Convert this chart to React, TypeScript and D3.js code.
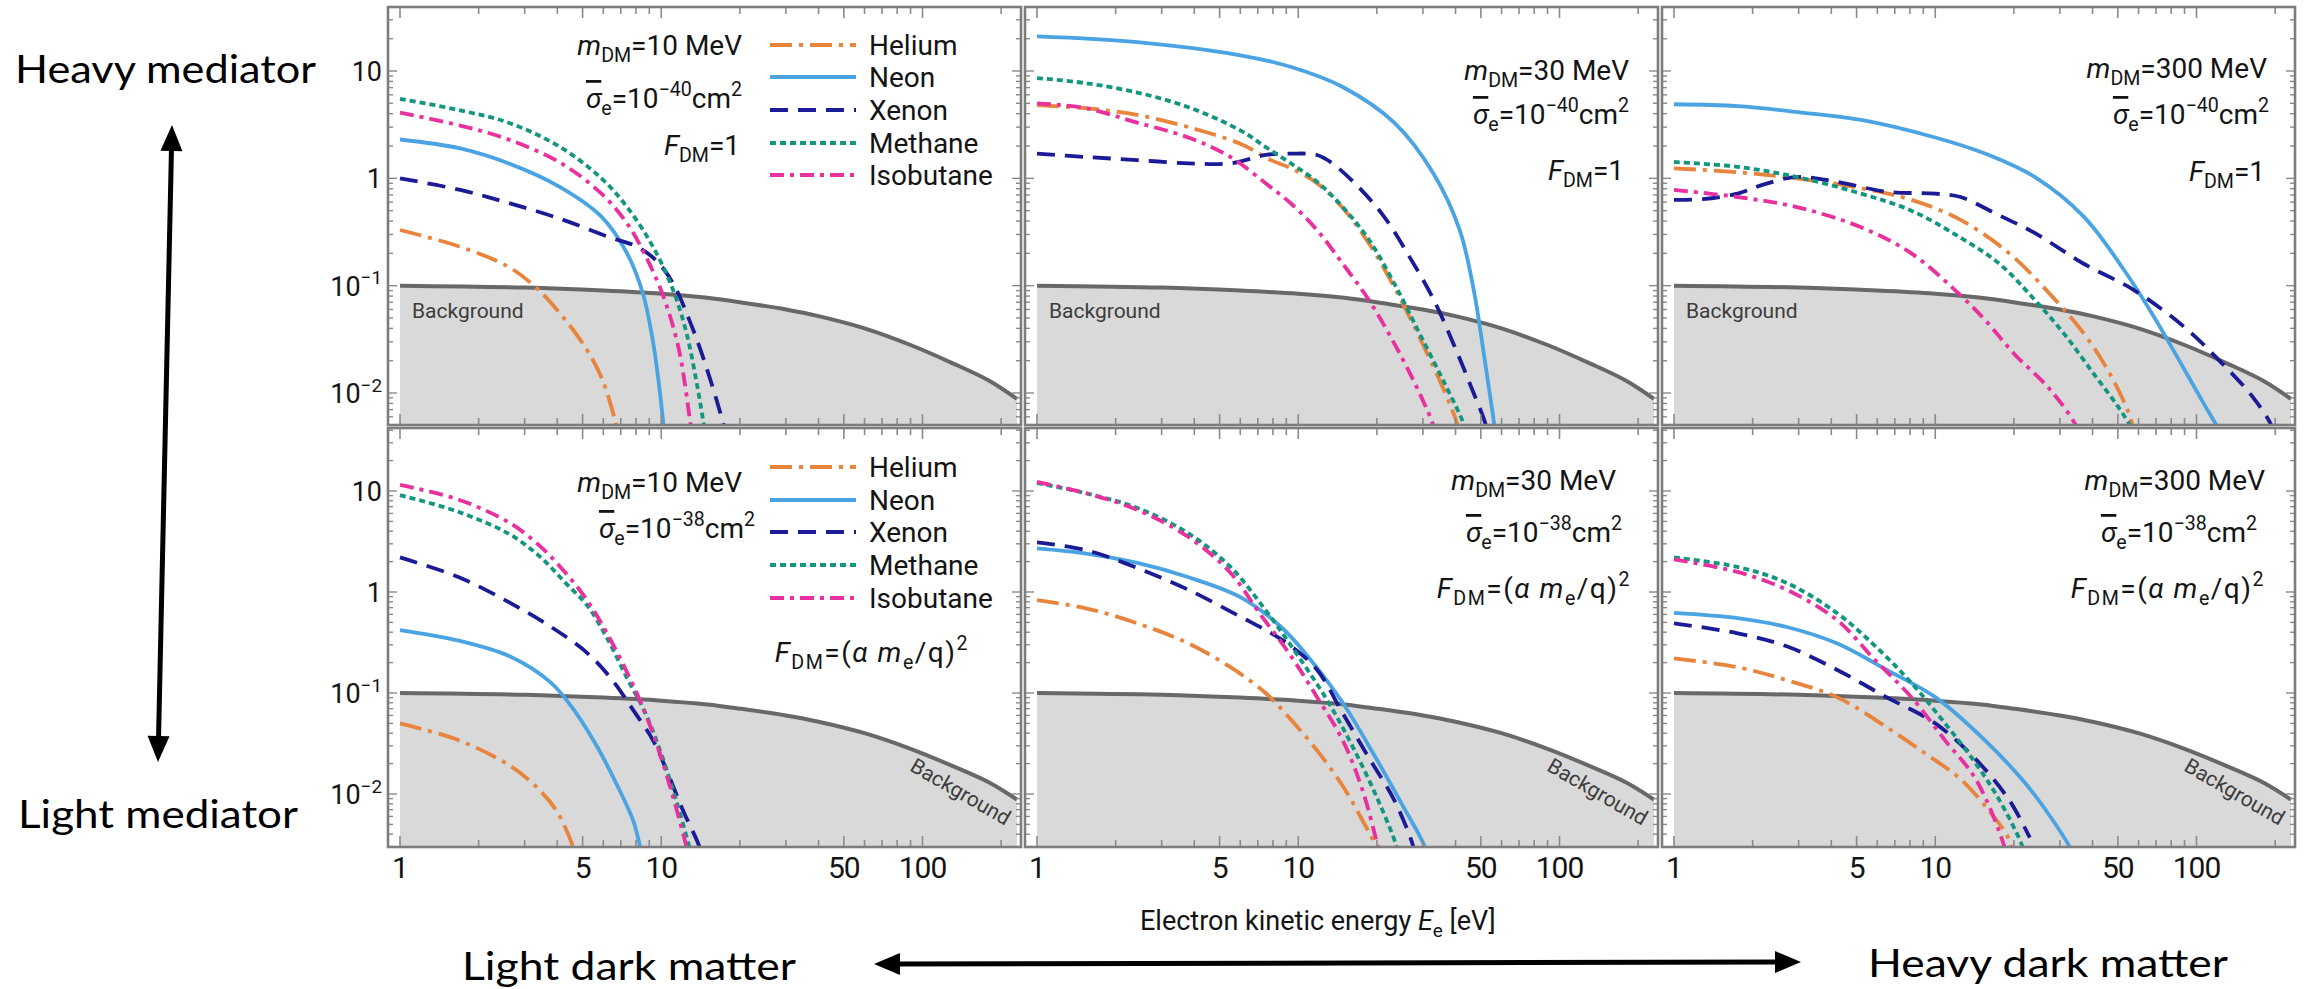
import React from 'react';
import * as d3 from 'd3';

type Pt = [number, number];

// ---------- DATA (energy in eV, rate) ----------
const background: Pt[] = [[1,0.1],[3,0.096],[6,0.09],[10,0.084],[15,0.077],[20,0.07],[30,0.06],[40,0.052],[60,0.04],[90,0.028],[130,0.019],[180,0.013],[230,0.0088]];

// Top-left: m=10 MeV, F=1
const heliumTL: Pt[] = [[1,0.33],[1.7,0.23],[2.6,0.15],[3.3,0.097],[4.1,0.055],[5.1,0.027],[5.9,0.014],[6.6,0.006],[7.0,0.003]];
const neonTL: Pt[] = [[1,2.3],[1.7,1.9],[2.6,1.38],[4.1,0.83],[5.9,0.44],[7.4,0.2],[8.5,0.085],[9.3,0.03],[9.8,0.012],[10.2,0.005],[10.4,0.003]];
const xenonTL: Pt[] = [[1,1.0],[1.7,0.78],[2.6,0.59],[4.1,0.42],[6.4,0.28],[8.1,0.23],[9.6,0.17],[11.1,0.105],[12.8,0.048],[14.6,0.02],[17.4,0.0048],[18,0.003]];
const methaneTL: Pt[] = [[1,5.5],[1.7,4.3],[2.6,3.3],[4.1,1.96],[5.9,1.0],[7.4,0.54],[9.3,0.23],[11.1,0.091],[12.5,0.036],[13.7,0.012],[14.6,0.0048],[15,0.003]];
const isobutaneTL: Pt[] = [[1,4.1],[1.7,3.1],[2.6,2.3],[4.1,1.4],[5.9,0.72],[7.4,0.38],[8.9,0.17],[10.3,0.074],[11.7,0.025],[13,0.0048],[13.4,0.003]];

// Top-middle: m=30 MeV, F=1
const heliumTM: Pt[] = [[1,4.8],[1.54,4.5],[2.42,3.9],[3.8,3.0],[6.0,2.1],[7.9,1.47],[9.4,1.24],[11.8,0.9],[14.8,0.53],[18.6,0.25],[23.3,0.097],[29.1,0.033],[36.5,0.01],[41,0.0048],[42.5,0.003]];
const neonTM: Pt[] = [[1,21],[2.42,18.6],[6.0,14],[9.4,10.9],[14.8,7.1],[23.3,3.3],[33,1.1],[41.5,0.33],[47,0.09],[51.5,0.022],[55,0.0075],[57.5,0.0035],[58.5,0.0025]];
const xenonTM: Pt[] = [[1,1.7],[1.54,1.58],[2.42,1.48],[3.8,1.38],[5.5,1.38],[7.5,1.65],[9.4,1.7],[11.8,1.65],[13.5,1.38],[17,0.83],[21.3,0.44],[26.5,0.19],[33,0.074],[39.7,0.027],[45.5,0.012],[52.5,0.0048],[54,0.003]];
const methaneTM: Pt[] = [[1,8.6],[1.54,7.7],[2.42,6.3],[3.8,4.6],[6.0,2.8],[7.5,1.96],[9.4,1.37],[11.8,0.93],[14.8,0.54],[18.6,0.27],[23.3,0.105],[29.1,0.036],[36.5,0.012],[43.4,0.0048],[45,0.003]];
const isobutaneTM: Pt[] = [[1,5.0],[1.54,4.5],[2.42,3.3],[3.8,2.4],[5.5,1.58],[7.5,0.9],[9.4,0.58],[11.8,0.33],[14.8,0.16],[18.6,0.074],[23.3,0.029],[29.1,0.01],[33,0.0048],[34,0.003]];

// Top-right: m=300 MeV, F=1
const heliumTR: Pt[] = [[1,1.24],[1.75,1.14],[2.95,1.0],[5.2,0.81],[8.1,0.63],[12.5,0.41],[19.2,0.2],[27.3,0.085],[37,0.036],[46,0.016],[55,0.0065],[59,0.0035]];
const neonTR: Pt[] = [[1,4.9],[1.75,4.7],[3.08,4.1],[5.2,3.5],[10,2.4],[15.5,1.7],[24,1.03],[37,0.44],[52.8,0.14],[68.5,0.052],[85,0.021],[105,0.0085],[122,0.0045],[132,0.003]];
const xenonTR: Pt[] = [[1,0.63],[1.29,0.64],[1.75,0.72],[2.18,0.87],[2.95,1.03],[4.2,0.93],[6.5,0.75],[10,0.72],[12.5,0.67],[17,0.47],[24,0.31],[37,0.16],[57.6,0.091],[89,0.042],[125,0.019],[164,0.0092],[195,0.0048],[205,0.003]];
const methaneTR: Pt[] = [[1,1.42],[1.75,1.28],[2.95,1.03],[5.2,0.72],[8.1,0.5],[12.5,0.28],[17.6,0.16],[24,0.074],[31.3,0.035],[40.5,0.015],[50,0.0075],[57,0.0045],[61,0.003]];
const isobutaneTR: Pt[] = [[1,0.78],[1.75,0.67],[2.95,0.54],[5.2,0.35],[8.1,0.2],[11.9,0.091],[15.5,0.048],[20.1,0.023],[27.3,0.011],[34.8,0.0048],[36.5,0.003]];

// Bottom-left: m=10 MeV, F=(a me/q)^2
const heliumBL: Pt[] = [[1,0.05],[1.68,0.034],[2.64,0.019],[3.3,0.012],[3.96,0.0069],[4.6,0.003],[4.8,0.002]];
const neonBL: Pt[] = [[1,0.42],[1.68,0.33],[2.64,0.23],[3.79,0.126],[4.73,0.063],[5.7,0.029],[6.8,0.012],[7.8,0.0055],[8.3,0.003],[8.6,0.002]];
const xenonBL: Pt[] = [[1,2.2],[1.68,1.4],[2.64,0.78],[3.79,0.45],[5.2,0.25],[6.5,0.134],[7.8,0.068],[9.3,0.034],[10.6,0.016],[12.1,0.0069],[14.0,0.003],[14.5,0.002]];
const methaneBL: Pt[] = [[1,9.1],[1.68,6.2],[2.64,3.7],[3.46,2.2],[4.3,1.23],[5.2,0.74],[6.2,0.35],[7.4,0.14],[8.7,0.063],[10,0.025],[11.4,0.0087],[12.8,0.003],[13.3,0.002]];
const isobutaneBL: Pt[] = [[1,11.5],[1.68,8.2],[2.64,4.8],[3.46,2.8],[4.3,1.55],[5.2,0.83],[6.2,0.39],[7.4,0.16],[8.5,0.072],[9.7,0.029],[11.1,0.0093],[12.5,0.003],[13,0.002]];

// Bottom-middle: m=30 MeV
const heliumBM: Pt[] = [[1,0.83],[1.54,0.69],[2.42,0.49],[3.8,0.31],[5.5,0.18],[7.5,0.1],[9.4,0.054],[11.8,0.027],[14.8,0.012],[17.6,0.0055],[19.8,0.003],[20.5,0.002]];
const neonBM: Pt[] = [[1,2.7],[1.54,2.4],[2.42,1.94],[3.8,1.4],[6.0,0.89],[8.6,0.45],[11.2,0.21],[14.8,0.08],[19.4,0.025],[25.3,0.0074],[30.5,0.003],[31.5,0.002]];
const xenonBM: Pt[] = [[1,3.1],[1.54,2.6],[2.42,1.73],[3.8,1.05],[6.0,0.57],[7.9,0.39],[9.4,0.29],[11.8,0.17],[14.8,0.063],[18.6,0.023],[23.3,0.0087],[27.6,0.003],[28.5,0.002]];
const methaneBM: Pt[] = [[1,12],[1.54,9.5],[2.42,6.8],[3.8,3.8],[5.5,1.77],[7.5,0.66],[9.8,0.25],[12.9,0.085],[16.2,0.029],[20.2,0.0087],[23.8,0.003],[24.5,0.002]];
const isobutaneBM: Pt[] = [[1,12.3],[1.54,9.5],[2.42,6.5],[3.8,3.5],[5.5,1.55],[7.1,0.62],[9.4,0.23],[11.8,0.091],[14.8,0.034],[17.6,0.011],[20.2,0.003],[21,0.002]];

// Bottom-right: m=300 MeV
const heliumBR: Pt[] = [[1,0.22],[1.75,0.18],[2.7,0.134],[4.2,0.091],[6.5,0.046],[9.2,0.025],[12.5,0.014],[16.3,0.0065],[19.2,0.0035],[19.8,0.002]];
const neonBR: Pt[] = [[1,0.62],[1.75,0.55],[2.7,0.45],[4.2,0.31],[6.5,0.17],[10,0.091],[15.5,0.034],[22,0.013],[27.3,0.0062],[32.7,0.003],[34,0.0024]];
const xenonBR: Pt[] = [[1,0.49],[1.75,0.39],[2.7,0.29],[4.2,0.17],[6.5,0.091],[10,0.05],[14.3,0.022],[19.2,0.0087],[23,0.0037]];
const methaneBR: Pt[] = [[1,2.2],[1.75,1.77],[2.7,1.23],[4.2,0.62],[5.9,0.29],[8.1,0.126],[10.9,0.05],[14.3,0.02],[17.6,0.0087],[21.6,0.003],[22.5,0.002]];
const isobutaneBR: Pt[] = [[1,2.1],[1.75,1.58],[2.7,1.05],[4.2,0.53],[5.9,0.21],[8.1,0.091],[10.9,0.034],[14.3,0.014],[18.4,0.003],[19,0.002]];

const seriesNames = ['Helium', 'Neon', 'Xenon', 'Methane', 'Isobutane'];
const xTickVals = [1,2,3,4,5,6,7,8,9,10,20,30,40,50,60,70,80,90,100,200];
const xLabelVals = [1,5,10,50,100];
const yLabelVals = [10,1,0.1,0.01];

// ---------- STYLE ----------
const STYLES: Record<string, {color: string; dash?: string}> = {
  Helium: {color: '#E8843C', dash: '22,7,4,7'},
  Neon: {color: '#4AA3E2'},
  Xenon: {color: '#1B1B98', dash: '18,10'},
  Methane: {color: '#13967F', dash: '6,4'},
  Isobutane: {color: '#E8309F', dash: '14,6,4,6'},
};

const colLeft = [388, 1025, 1662];
const FRAME_W = 633;
const PAD = 12;
const E_MAX = 230;
const ROWS = [
  {top: 7, bottom: 425, y10: 71, y001: 393},
  {top: 428, bottom: 847, y10: 491, y001: 794},
];
const SANS = 'Roboto, "Noto Sans", sans-serif';
const HUMAN = 'Lato, "Open Sans", sans-serif';

type Part = {t: string; sub?: boolean; sup?: boolean; it?: boolean; over?: boolean};

function Rich({x, y, parts, fs, anchor = 'end', fill = '#141414', family = SANS, ls = 0}: {x: number; y: number; parts: Part[]; fs: number; anchor?: string; fill?: string; family?: string; ls?: number}) {
  let cur = 0;
  return (
    <text x={x} y={y} fontSize={fs} textAnchor={anchor as any} fill={fill} fontFamily={family} letterSpacing={ls}>
      {parts.map((p, i) => {
        const target = p.sub ? fs * 0.26 : p.sup ? -fs * 0.42 : 0;
        const dy = target - cur;
        cur = target;
        return (
          <tspan key={i} dy={dy} fontSize={p.sub || p.sup ? fs * 0.7 : fs} fontStyle={p.it ? 'italic' : 'normal'}
            style={p.over ? {textDecoration: 'overline'} : undefined}>{p.t}</tspan>
        );
      })}
    </text>
  );
}

const mText = (v: string): Part[] => [{t: 'm', it: true}, {t: 'DM', sub: true}, {t: `=${v} MeV`}];
const sText = (p: string): Part[] => [{t: 'σ', it: true, over: true}, {t: 'e', sub: true}, {t: '=10'}, {t: `−${p}`, sup: true}, {t: 'cm'}, {t: '2', sup: true}];
const fOne: Part[] = [{t: 'F', it: true}, {t: 'DM', sub: true}, {t: '=1'}];
const fAlpha: Part[] = [{t: 'F', it: true}, {t: 'DM', sub: true}, {t: '=('}, {t: 'α', it: true}, {t: ' '}, {t: 'm', it: true}, {t: 'e', sub: true}, {t: '/q)'}, {t: '2', sup: true}];

type Anno = {parts: Part[]; x: number; y: number; ls?: number};
type PanelDef = {col: number; row: number; data: Pt[][]; annos: Anno[]; legend?: {x0: number; x1: number; tx: number; ys: number[]}};

const PANELS: PanelDef[] = [
  {col: 0, row: 0, data: [heliumTL, neonTL, xenonTL, methaneTL, isobutaneTL],
    annos: [{parts: mText('10'), x: 742, y: 55}, {parts: sText('40'), x: 742, y: 108}, {parts: fOne, x: 740, y: 155}],
    legend: {x0: 770, x1: 856, tx: 869, ys: [45, 77, 110, 143, 175]}},
  {col: 1, row: 0, data: [heliumTM, neonTM, xenonTM, methaneTM, isobutaneTM],
    annos: [{parts: mText('30'), x: 1629, y: 80}, {parts: sText('40'), x: 1629, y: 124}, {parts: fOne, x: 1624, y: 180}]},
  {col: 2, row: 0, data: [heliumTR, neonTR, xenonTR, methaneTR, isobutaneTR],
    annos: [{parts: mText('300'), x: 2267, y: 78}, {parts: sText('40'), x: 2269, y: 124}, {parts: fOne, x: 2265, y: 181}]},
  {col: 0, row: 1, data: [heliumBL, neonBL, xenonBL, methaneBL, isobutaneBL],
    annos: [{parts: mText('10'), x: 742, y: 492}, {parts: sText('38'), x: 755, y: 538}, {parts: fAlpha, x: 969, y: 662, ls: 1.5}],
    legend: {x0: 770, x1: 856, tx: 869, ys: [467, 500, 532, 565, 598]}},
  {col: 1, row: 1, data: [heliumBM, neonBM, xenonBM, methaneBM, isobutaneBM],
    annos: [{parts: mText('30'), x: 1616, y: 490}, {parts: sText('38'), x: 1622, y: 542}, {parts: fAlpha, x: 1631, y: 598, ls: 1.5}]},
  {col: 2, row: 1, data: [heliumBR, neonBR, xenonBR, methaneBR, isobutaneBR],
    annos: [{parts: mText('300'), x: 2265, y: 490}, {parts: sText('38'), x: 2257, y: 542}, {parts: fAlpha, x: 2265, y: 598, ls: 1.5}]},
];

function Panel({def}: {def: PanelDef}) {
  const {col, row} = def;
  const R = ROWS[row];
  const fl = colLeft[col];
  const fr = fl + FRAME_W;
  const x0 = fl + PAD;
  const xs = d3.scaleLog().domain([1, E_MAX]).range([x0, x0 + 617]);
  const ys = d3.scaleLog().domain([0.01, 10]).range([R.y001, R.y10]);
  const line = d3.line<Pt>().x(d => xs(d[0])).y(d => ys(d[1])).curve(d3.curveCatmullRom.alpha(0.5));
  const area = d3.area<Pt>().x(d => xs(d[0])).y0(R.bottom).y1(d => ys(d[1])).curve(d3.curveCatmullRom.alpha(0.5));
  const clipId = `clip-${col}-${row}`;
  const vMin = ys.invert(R.bottom);
  const vMax = ys.invert(R.top);
  const yTicks: {v: number; major: boolean}[] = [];
  for (let e = -4; e <= 2; e++) {
    for (let k = 1; k <= 9; k++) {
      const v = k * Math.pow(10, e);
      if (v >= vMin && v <= vMax) yTicks.push({v, major: k === 1});
    }
  }
  const frameColor = '#7d7d7d';
  return (
    <g>
      <defs>
        <clipPath id={clipId}><rect x={fl} y={R.top} width={FRAME_W} height={R.bottom - R.top} /></clipPath>
      </defs>
      <g clipPath={`url(#${clipId})`}>
        <path d={area(background) || ''} fill="#d9d9d9" />
        <path d={line(background) || ''} fill="none" stroke="#686868" strokeWidth={4} />
        {def.data.map((d, i) => {
          const st = STYLES[seriesNames[i]];
          return <path key={i} d={line(d) || ''} fill="none" stroke={st.color} strokeWidth={3.8} strokeDasharray={st.dash} />;
        })}
      </g>
      {xTickVals.map(v => {
        const x = xs(v);
        const L = xLabelVals.includes(v) ? 11 : 7;
        return (
          <g key={'xt' + v} stroke="#8a8a8a" strokeWidth={1.6}>
            <line x1={x} x2={x} y1={R.bottom} y2={R.bottom - L} />
            <line x1={x} x2={x} y1={R.top} y2={R.top + L} />
          </g>
        );
      })}
      {yTicks.map(t => {
        const y = ys(t.v);
        const L = t.major ? 9 : 5;
        return (
          <g key={'yt' + t.v} stroke="#8a8a8a" strokeWidth={1.4}>
            <line x1={fl} x2={fl + L} y1={y} y2={y} />
            <line x1={fr} x2={fr - L} y1={y} y2={y} />
          </g>
        );
      })}
      <rect x={fl} y={R.top} width={FRAME_W} height={R.bottom - R.top} fill="none" stroke={frameColor} strokeWidth={2.6} />
      {row === 0 ? (
        <text x={x0 + 12} y={318} fontSize={21} fontFamily={SANS} fill="#3c3c3c">Background</text>
      ) : (
        <text x={x0 + 557} y={798} fontSize={21} fontFamily={SANS} fill="#3c3c3c" textAnchor="middle"
          transform={`rotate(30 ${x0 + 557} ${798})`}>Background</text>
      )}
      {def.annos.map((a, i) => <Rich key={i} x={a.x} y={a.y} parts={a.parts} fs={28} ls={a.ls || 0} />)}
      {def.legend && seriesNames.map((n, i) => {
        const st = STYLES[n];
        const y = def.legend!.ys[i];
        return (
          <g key={n}>
            <line x1={def.legend!.x0} x2={def.legend!.x1} y1={y} y2={y} stroke={st.color} strokeWidth={3.8} strokeDasharray={st.dash} />
            <text x={def.legend!.tx} y={y + 10} fontSize={28} fontFamily={SANS} fill="#141414">{n}</text>
          </g>
        );
      })}
      {col === 0 && yLabelVals.map(v => {
        const y = ys(v) + 10;
        if (v >= 1) return <text key={'yl' + v} x={382} y={y} fontSize={27} fontFamily={SANS} textAnchor="end" fill="#141414">{v}</text>;
        const p = Math.round(-Math.log10(v));
        return <Rich key={'yl' + v} x={382} y={y} fs={27} parts={[{t: '10'}, {t: `−${p}`, sup: true}]} />;
      })}
      {row === 1 && xLabelVals.map(v => (
        <text key={'xl' + v} x={xs(v)} y={878} fontSize={30} letterSpacing={-1} fontFamily={SANS} textAnchor="middle" fill="#141414">{v}</text>
      ))}
    </g>
  );
}

function Arrow({x1, y1, x2, y2}: {x1: number; y1: number; x2: number; y2: number}) {
  const dx = x2 - x1, dy = y2 - y1, L = Math.hypot(dx, dy);
  const ux = dx / L, uy = dy / L, px = -uy, py = ux;
  const hl = 26, hw = 11;
  const head = (tx: number, ty: number, dir: number) => {
    const bx = tx - dir * ux * hl, by = ty - dir * uy * hl;
    return `M${tx},${ty}L${bx + px * hw},${by + py * hw}L${bx - px * hw},${by - py * hw}Z`;
  };
  return (
    <g>
      <line x1={x1 + ux * hl * 0.8} y1={y1 + uy * hl * 0.8} x2={x2 - ux * hl * 0.8} y2={y2 - uy * hl * 0.8} stroke="#000" strokeWidth={5} />
      <path d={head(x2, y2, 1)} fill="#000" />
      <path d={head(x1, y1, -1)} fill="#000" />
    </g>
  );
}

export default function App() {
  return (
    <svg width={2313} height={989} style={{position: 'absolute', left: 0, top: 0, display: 'block'}}>
      <rect x={0} y={0} width={2313} height={989} fill="#fff" />
      {PANELS.map((p, i) => <Panel key={i} def={p} />)}
      <text x={15} y={83} fontSize={38} fontFamily={HUMAN} fill="#000" textLength={301} lengthAdjust="spacingAndGlyphs">Heavy mediator</text>
      <text x={18} y={828} fontSize={38} fontFamily={HUMAN} fill="#000" textLength={280} lengthAdjust="spacingAndGlyphs">Light mediator</text>
      <text x={462} y={980} fontSize={38} fontFamily={HUMAN} fill="#000" textLength={334} lengthAdjust="spacingAndGlyphs">Light dark matter</text>
      <text x={1868} y={977} fontSize={38} fontFamily={HUMAN} fill="#000" textLength={360} lengthAdjust="spacingAndGlyphs">Heavy dark matter</text>
      <Arrow x1={172} y1={125} x2={158} y2={762} />
      <Arrow x1={874} y1={964} x2={1801} y2={962} />
      <Rich x={1140} y={930} fs={27} anchor="start" parts={[{t: 'Electron kinetic energy '}, {t: 'E', it: true}, {t: 'e', sub: true}, {t: ' [eV]'}]} />
    </svg>
  );
}
